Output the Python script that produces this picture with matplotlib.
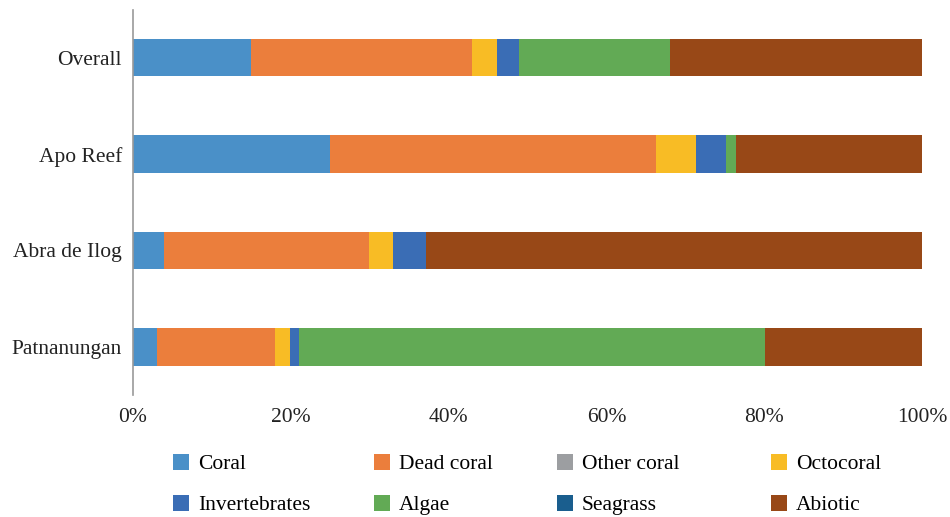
import matplotlib
matplotlib.use("Agg")
import matplotlib.pyplot as plt
from matplotlib.ticker import FuncFormatter

sites = ["Overall", "Apo Reef", "Abra de Ilog", "Patnanungan"]
categories = ["Coral", "Dead coral", "Other coral", "Octocoral",
              "Invertebrates", "Algae", "Seagrass", "Abiotic"]
coral = [15.0, 25.0, 3.9, 3.0]
dead_coral = [28.0, 41.3, 26.0, 15.0]
other_coral = [0.0, 0.0, 0.0, 0.0]
octocoral = [3.1, 5.0, 3.1, 1.9]
invertebrates = [2.8, 3.8, 4.1, 1.2]
algae = [19.2, 1.3, 0.0, 59.0]
seagrass = [0.0, 0.0, 0.0, 0.0]
abiotic = [31.9, 23.6, 62.9, 19.9]
xticks = [0, 20, 40, 60, 80, 100]

series = [coral, dead_coral, other_coral, octocoral,
          invertebrates, algae, seagrass, abiotic]
colors = ["#4A90C8", "#EB7E3C", "#9C9EA1", "#F8BC25",
          "#3A6DB5", "#62AA55", "#1A5E8E", "#984817"]

plt.rcParams["font.family"] = ["Liberation Serif", "DejaVu Serif"]
FS = 15.5

fig = plt.figure(figsize=(9.5, 5.17), dpi=100)
ax = fig.add_axes([133 / 950, 1 - 395 / 517, (922 - 133) / 950, (395 - 9.5) / 517])

ypos = list(range(len(sites)))
left = [0.0] * len(sites)
bars = []
for name, vals, col in zip(categories, series, colors):
    b = ax.barh(ypos, vals, left=left, height=0.39, color=col, label=name,
                edgecolor="none")
    bars.append(b)
    left = [l + v for l, v in zip(left, vals)]

ax.set_ylim(len(sites) - 0.5, -0.5)
ax.set_xlim(0, 100)
ax.set_yticks(ypos)
ax.set_yticklabels(sites, fontsize=FS, color="#222222")
ax.set_xticks(xticks)
ax.xaxis.set_major_formatter(FuncFormatter(lambda v, p: f"{v:.0f}%"))
ax.tick_params(axis="x", length=0, labelsize=FS, pad=9, colors="#222222")
ax.tick_params(axis="y", length=0, pad=8)
for s in ["top", "right", "bottom"]:
    ax.spines[s].set_visible(False)
ax.spines["left"].set_color("#999999")
ax.spines["left"].set_linewidth(1.2)

# Legend: four columns of two entries each
col_x = [173, 374, 557, 771]
for i, x in enumerate(col_x):
    hs = [bars[i], bars[i + 4]]
    ls = [categories[i], categories[i + 4]]
    fig.legend(hs, ls, loc="upper left",
               bbox_to_anchor=(x / 950, 1 - 454 / 517),
               frameon=False, fontsize=FS, handlelength=0.75,
               handleheight=0.75, handletextpad=0.4,
               labelspacing=0.95, borderpad=0, borderaxespad=0)

fig.savefig("out.png", dpi=100)
